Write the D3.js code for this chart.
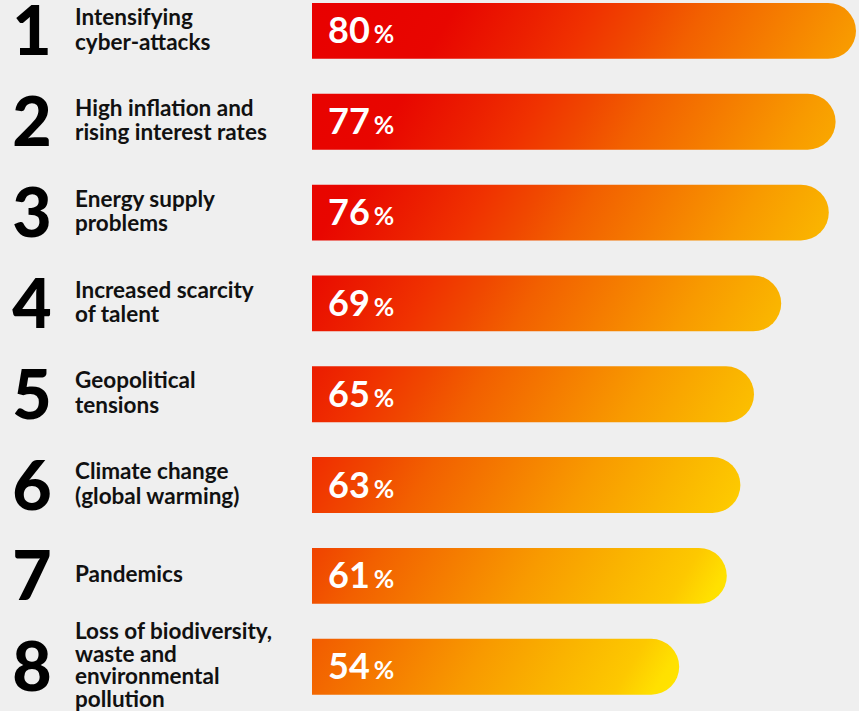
<!DOCTYPE html>
<html>
<head>
<meta charset="utf-8">
<script src="https://cdn.jsdelivr.net/npm/d3@7"></script>
<style>
  html, body { margin: 0; padding: 0; background: #efefef; }
  svg { display: block; font-family: Lato, "Open Sans", sans-serif; }
</style>
</head>
<body>
<svg id="viz"></svg>
<script>
// data
var ranks = ['1', '2', '3', '4', '5', '6', '7', '8'];
var labels = [
  ['Intensifying', 'cyber-attacks'],
  ['High inflation and', 'rising interest rates'],
  ['Energy supply', 'problems'],
  ['Increased scarcity', 'of talent'],
  ['Geopolitical', 'tensions'],
  ['Climate change', '(global warming)'],
  ['Pandemics'],
  ['Loss of biodiversity,', 'waste and', 'environmental', 'pollution']
];
var values = [80, 77, 76, 69, 65, 63, 61, 54];

var width = 859, height = 711;
var barLeft = 312;

var svg = d3.select('#viz').attr('width', width).attr('height', height);

// one diagonal gradient shared by every bar (red top-left -> yellow bottom-right)
var stops = [
  [0, '#e80000'], [0.19, '#e80600'], [0.30, '#ec2000'], [0.37, '#f03200'],
  [0.44, '#f04800'], [0.51, '#f26000'], [0.72, '#f89a00'], [0.83, '#fab400'],
  [0.92, '#fdc800'], [0.97, '#ffe000'], [1, '#ffe400']
];
var grad = svg.append('defs').append('linearGradient')
  .attr('id', 'barGrad')
  .attr('gradientUnits', 'userSpaceOnUse')
  .attr('x1', 312).attr('y1', 0)
  .attr('x2', 885.5).attr('y2', 344);
grad.selectAll('stop').data(stops).enter().append('stop')
  .attr('offset', d => d[0])
  .attr('stop-color', d => d[1]);

var xScale = d3.scaleLinear().domain([0, 80]).range([barLeft, 856]);
var yScale = d3.scaleBand().domain(ranks).range([-15.2, 712.8]).paddingInner(0.385).paddingOuter(0.2);

var bh = yScale.bandwidth();

function barPath(d, i) {
  var x0 = barLeft, x1 = xScale(d), y0 = yScale(ranks[i]), r = bh / 2;
  return 'M' + x0 + ',' + y0 +
    'H' + (x1 - r) +
    'A' + r + ',' + r + ' 0 0 1 ' + (x1 - r) + ',' + (y0 + bh) +
    'H' + x0 + 'Z';
}

var rows = svg.selectAll('g.row')
  .data(values)
  .enter().append('g')
  .attr('class', 'row');

rows.append('path')
  .attr('d', barPath)
  .attr('fill', 'url(#barGrad)');

// value labels
var vt = rows.append('text')
  .attr('x', barLeft + 16)
  .attr('y', function(d, i){ return yScale(ranks[i]) + bh / 2 + 12.5; })
  .attr('fill', '#fff')
  .attr('font-weight', 700);
vt.append('tspan').attr('font-size', 36).text(function(d){ return d; });
vt.append('tspan').attr('font-size', 25).attr('dx', 4).text('%');

// rank numbers
rows.append('text')
  .attr('x', 32)
  .attr('y', function(d, i){ return yScale(ranks[i]) + bh / 2 + 24.5; })
  .attr('text-anchor', 'middle')
  .attr('font-size', 68)
  .attr('font-weight', 900)
  .attr('fill', '#000')
  .text(function(d, i){ return ranks[i]; });

// category labels
rows.append('text')
  .attr('font-size', 22.5)
  .attr('font-weight', 700)
  .attr('fill', '#111')
  .each(function(d, i){
    var lines = labels[i];
    var lineH = lines.length > 2 ? 22.5 : 24.5;
    var cy = yScale(ranks[i]) + bh / 2;
    var first = cy - (lines.length - 1) * lineH / 2 + 6.5;
    d3.select(this).selectAll('tspan')
      .data(lines)
      .enter().append('tspan')
      .attr('x', 75)
      .attr('y', function(l, j){ return first + j * lineH; })
      .text(function(l){ return l; });
  });
</script>
</body>
</html>
